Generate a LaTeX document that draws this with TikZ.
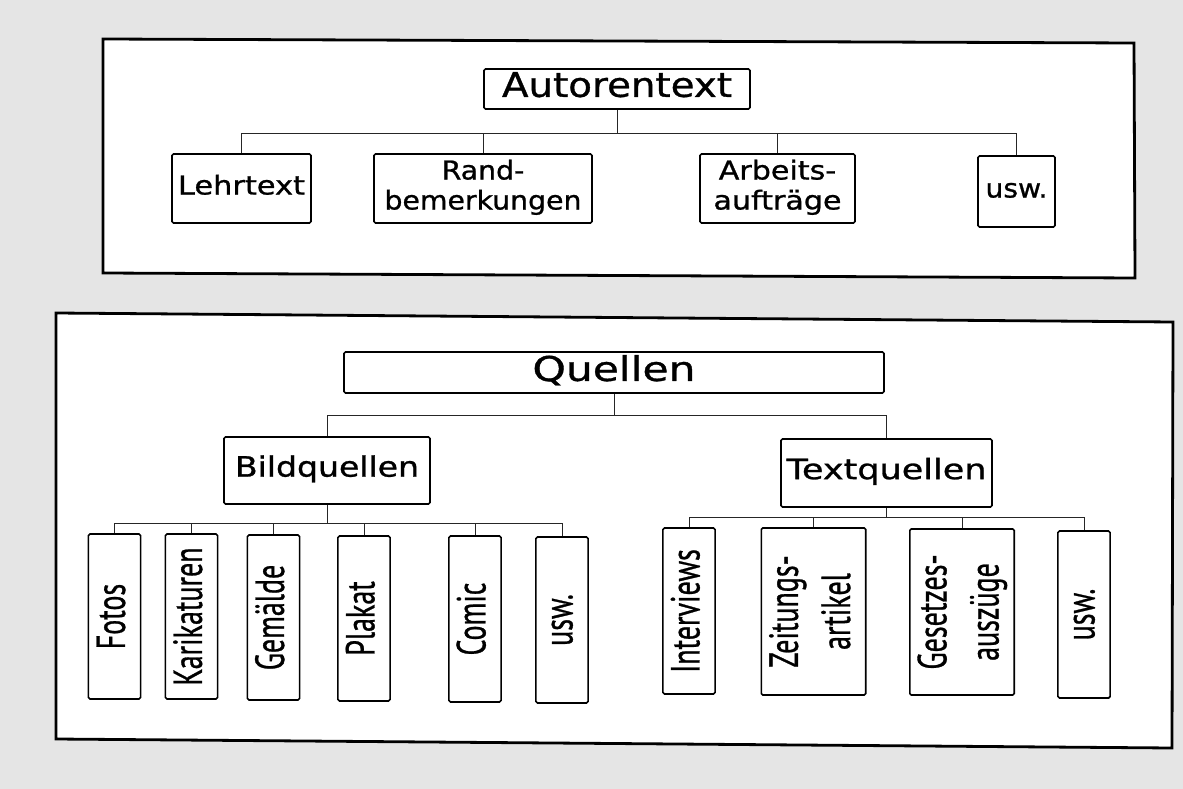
\documentclass[tikz,border=0pt]{standalone}
\usepackage{fontspec}
\usepackage{graphicx}
\newfontfamily\hfont{DejaVu Sans}[FakeBold=0.9]
\newfontfamily\vfont{PT Sans}[FakeBold=0.9]

% horizontal label: wide sans, stretched sideways to the given width
\newcommand{\htxt}[3]{\resizebox{#2pt}{\height}{\hfont\fontsize{#1}{30}\selectfont\begin{tabular}{@{}c@{}}#3\end{tabular}}}
% upright (rotated) label, reading bottom to top
\newcommand{\vtxt}[1]{\rotatebox{90}{\scalebox{1}[1.45]{\vfont\fontsize{28}{36}\selectfont\begin{tabular}{@{}c@{}}#1\end{tabular}}}}

\tikzset{
  panel/.style={draw=black, line width=2.8pt, fill=white, line join=miter},
  box/.style={draw=black, line width=1.6pt, rounded corners=1.5pt, fill=white,
              inner sep=0pt, anchor=center},
  link/.style={draw=black!85, line width=1pt},
}

\begin{document}
\begin{tikzpicture}[x=1pt, y=-1pt]
  % sheet
  \fill[gray!20] (0,0) rectangle (1183,789);
  \useasboundingbox (0,0) rectangle (1183,789);

  % frames
  \draw[panel] (103,39) -- (1134,43) -- (1135,278) -- (103,273) -- cycle;
  \draw[panel] (56,313) -- (1173,322) -- (1172,748) -- (56,739) -- cycle;

  % ---------- Autorentext ----------
  \node[box, minimum width=266, minimum height=40] (auto) at (617,89) {\htxt{34}{230}{Autorentext}};
  \node[box, minimum width=139, minimum height=69] (lehr) at (241.5,188.5) {\htxt{26}{127}{Lehrtext}};
  \node[box, minimum width=218, minimum height=69] (rand) at (483,188.5) {\htxt{26}{197}{Rand-\\bemerkungen}};
  \node[box, minimum width=155, minimum height=69] (arb)  at (777.5,188.5) {\htxt{26}{128}{Arbeits-\\aufträge}};
  \node[box, minimum width=77,  minimum height=71] (uswa) at (1016.5,191.5) {\htxt{26}{62}{usw.}};

  \draw[link] (auto.south) -- ++(0,24) coordinate (ja);
  \foreach \n in {lehr,rand,arb,uswa} \draw[link] (ja) -| (\n.north);

  % ---------- Quellen ----------
  \node[box, minimum width=540, minimum height=41] (quel) at (614,372.5) {\htxt{34}{163}{Quellen}};
  \node[box, minimum width=206, minimum height=67] (bild) at (327,470.5) {\htxt{28}{184}{Bildquellen}};
  \node[box, minimum width=211, minimum height=68] (text) at (886.5,473) {\htxt{28}{200}{Textquellen}};

  \draw[link] (quel.south) -- ++(0,22) coordinate (jq);
  \draw[link] (jq) -| (bild.north);
  \draw[link] (jq) -| (text.north);

  % picture sources
  \node[box, minimum width=43, minimum height=165] (fotos) at (114.5,616.5) {\vtxt{Fotos}};
  \node[box, minimum width=49, minimum height=165] (kari)  at (191.5,616.5) {\vtxt{Karikaturen}};
  \node[box, minimum width=43, minimum height=165] (gem)   at (273.5,617.5) {\vtxt{Gemälde}};
  \node[box, minimum width=46, minimum height=165] (plak)  at (364,618.5)   {\vtxt{Plakat}};
  \node[box, minimum width=46, minimum height=166] (comic) at (475,619)     {\vtxt{Comic}};
  \node[box, minimum width=42, minimum height=166] (uswb)  at (562,620)     {\vtxt{usw.}};

  \draw[link] (bild.south) -- ++(0,19) coordinate (jb);
  \foreach \n in {fotos,kari,gem,plak,comic,uswb} \draw[link] (jb) -| (\n.north);

  % text sources
  \node[box, minimum width=42, minimum height=166] (intv) at (689,611)     {\vtxt{Interviews}};
  \node[box, minimum width=93, minimum height=167] (zeit) at (813.5,611.5) {\vtxt{Zeitungs-\\artikel}};
  \node[box, minimum width=90, minimum height=166] (gese) at (962,612)     {\vtxt{Gesetzes-\\auszüge}};
  \node[box, minimum width=40, minimum height=167] (uswc) at (1084,614.5)  {\vtxt{usw.}};

  \draw[link] (text.south) -- ++(0,10) coordinate (jt);
  \foreach \n in {intv,zeit,gese,uswc} \draw[link] (jt) -| (\n.north);
\end{tikzpicture}
\end{document}
